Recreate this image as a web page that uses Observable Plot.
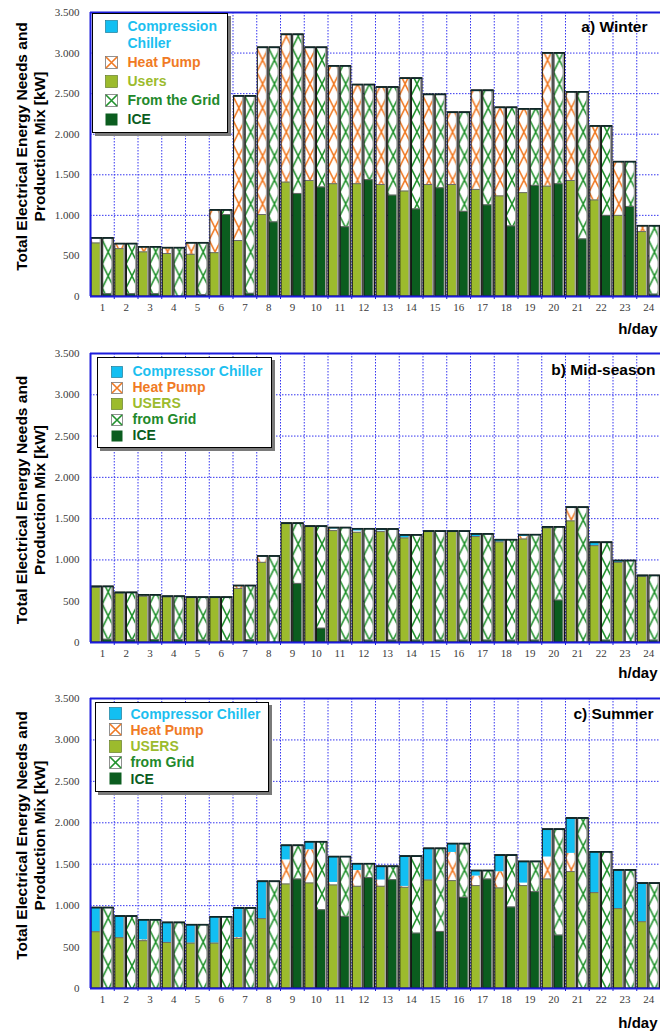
<!DOCTYPE html>
<html>
<head>
<meta charset="utf-8">
<script src="https://cdn.jsdelivr.net/npm/d3@7"></script>
<script src="https://cdn.jsdelivr.net/npm/@observablehq/plot@0.6"></script>
<style>
  body { margin: 0; background: #fff; font-family: "Liberation Sans", Arial, sans-serif; }
  #page { width: 660px; }
  .panel { position: relative; width: 660px; overflow: hidden; }
  .panel svg.plot { display: block; }
  .legend { position: absolute; box-sizing: border-box; background: #fff; border: 1.5px solid #000;
            box-shadow: 3px 3px 0 #7a7a7a; font-weight: bold; font-size: 14px; }
  .legend .row { display: flex; align-items: flex-start; white-space: pre-line; }
  .legend .row svg { flex: none; }
</style>
</head>
<body>
<div id="page"></div>
<script>
// ---- hours and axis ticks ----
const hours = d3.range(1, 25);
const yTicks = [0, 500, 1000, 1500, 2000, 2500, 3000, 3500];
const yLabel = "Total Electrical Energy Needs and\nProduction Mix [kW]";

// ---- a) Winter (kW) ----
const winterUsers     = [660, 590, 550, 530, 520, 540, 690, 1010, 1410, 1430, 1390, 1390, 1380, 1300, 1380, 1380, 1320, 1240, 1280, 1360, 1430, 1190, 1000, 800];
const winterHeatPump  = [60, 60, 60, 70, 140, 525, 1780, 2060, 1820, 1640, 1450, 1220, 1200, 1390, 1110, 890, 1220, 1090, 1030, 1640, 1090, 910, 660, 70];
const winterChiller   = [0, 0, 0, 0, 0, 0, 0, 0, 0, 0, 0, 0, 0, 0, 0, 0, 0, 0, 0, 0, 0, 0, 0, 0];
const winterIce       = [35, 35, 35, 0, 25, 1010, 40, 920, 1270, 1350, 860, 1440, 1250, 1080, 1340, 1050, 1130, 870, 1370, 1390, 710, 1000, 1110, 30];

// ---- b) Mid-season (kW) ----
const midUsers        = [668, 600, 560, 554, 545, 545, 655, 971, 1444, 1408, 1355, 1335, 1343, 1266, 1343, 1343, 1283, 1218, 1254, 1388, 1473, 1173, 971, 801];
const midHeatPump     = [0, 0, 10, 0, 0, 0, 25, 70, 0, 0, 20, 15, 10, 0, 0, 0, 0, 0, 30, 0, 150, 0, 0, 0];
const midChiller      = [10, 5, 5, 5, 3, 3, 8, 5, 0, 0, 15, 25, 20, 35, 5, 5, 30, 25, 20, 10, 15, 40, 20, 10];
const midIce          = [40, 35, 35, 35, 30, 20, 35, 0, 716, 174, 30, 30, 30, 30, 30, 30, 30, 30, 30, 514, 0, 30, 10, 30];

// ---- c) Summer (kW) ----
const summerUsers     = [685, 613, 577, 556, 548, 548, 605, 843, 1262, 1274, 1250, 1234, 1234, 1222, 1310, 1302, 1242, 1214, 1242, 1322, 1411, 1157, 964, 806];
const summerHeatPump  = [0, 0, 10, 0, 0, 0, 10, 0, 290, 400, 30, 190, 75, 10, 0, 340, 115, 195, 30, 265, 220, 0, 0, 0];
const summerChiller   = [290, 260, 240, 240, 220, 315, 355, 450, 175, 95, 310, 80, 165, 365, 380, 105, 65, 200, 260, 335, 425, 490, 465, 465];
const summerIce       = [0, 0, 0, 0, 0, 0, 0, 0, 1322, 951, 871, 1339, 1314, 669, 689, 1101, 1322, 984, 1169, 645, 10, 0, 0, 0];

// ---- colours ----
const cChiller = "#12bff2";
const cHeatPump = "#f07a24";
const cUsers = "#9cbb2d";
const cGrid = "#22922e";
const cIce = "#0b5d1f";
const cAxis = "#1c1cdc";
const cGridLine = "#3434f0";

// ---- layout ----
const W = 660, ML = 90, MR = 0;
const step = (W - ML - MR) / 24;
const fmt = d3.formatLocale({decimal: ",", thousands: ".", grouping: [3]}).format(",");

// Cross-hatch fills, one tile per half-hour slot so every bar gets a full X
const ns = "http://www.w3.org/2000/svg";
const defsSvg = document.createElementNS(ns, "svg");
defsSvg.setAttribute("width", 0);
defsSvg.setAttribute("height", 0);
defsSvg.style.position = "absolute";
const tileW = step / 2, tileH = 24;
defsSvg.innerHTML = `<defs>
  <pattern id="hatch-hp" patternUnits="userSpaceOnUse" x="${ML + 0.4}" y="0" width="${tileW}" height="${tileH}">
    <rect width="${tileW}" height="${tileH}" fill="#fff"/>
    <path d="M0,0L${tileW},${tileH}M${tileW},0L0,${tileH}" stroke="${cHeatPump}" stroke-width="1.6" fill="none"/>
  </pattern>
  <pattern id="hatch-grid" patternUnits="userSpaceOnUse" x="${ML + 0.4}" y="0" width="${tileW}" height="${tileH}">
    <rect width="${tileW}" height="${tileH}" fill="#fff"/>
    <path d="M0,0L${tileW},${tileH}M${tileW},0L0,${tileH}" stroke="${cGrid}" stroke-width="1.6" fill="none"/>
  </pattern>
</defs>`;
document.body.prepend(defsSvg);

// bar extents within an hour slot: side 0 = needs, side 1 = production mix
const barX1 = d => d.side === 0 ? d.h - 1 + 0.045 : d.h - 0.465;
const barX2 = d => d.side === 0 ? d.h - 0.51 : d.h - 0.02;

function swatch(kind, size) {
  const s = size;
  let inner;
  if (kind === "chiller") inner = `<rect x="0.5" y="0.5" width="${s - 1}" height="${s - 1}" fill="${cChiller}" stroke="#0a6d8a" stroke-width="0.6"/>`;
  else if (kind === "users") inner = `<rect x="0.5" y="0.5" width="${s - 1}" height="${s - 1}" fill="${cUsers}" stroke="#56701a" stroke-width="0.6"/>`;
  else if (kind === "ice") inner = `<rect x="0.5" y="0.5" width="${s - 1}" height="${s - 1}" fill="${cIce}"/>`;
  else if (kind === "hp") inner = `<rect x="0.5" y="0.5" width="${s - 1}" height="${s - 1}" fill="#fff" stroke="#777" stroke-width="0.8"/><path d="M1,1L${s - 1},${s - 1}M${s - 1},1L1,${s - 1}" stroke="${cHeatPump}" stroke-width="1.6"/>`;
  else inner = `<rect x="0.5" y="0.5" width="${s - 1}" height="${s - 1}" fill="#fff" stroke="#777" stroke-width="0.8"/><path d="M1,1L${s - 1},${s - 1}M${s - 1},1L1,${s - 1}" stroke="${cGrid}" stroke-width="1.6"/>`;
  return `<svg width="${s}" height="${s}" viewBox="0 0 ${s} ${s}">${inner}</svg>`;
}

function legendBox(cfg) {
  const box = document.createElement("div");
  box.className = "legend";
  Object.assign(box.style, {
    left: cfg.left + "px", top: cfg.top + "px",
    width: cfg.width + "px", height: cfg.height + "px",
    paddingTop: cfg.pad + "px"
  });
  cfg.items.forEach(it => {
    const row = document.createElement("div");
    row.className = "row";
    row.style.lineHeight = cfg.lineHeight + "px";
    row.style.marginBottom = cfg.gap + "px";
    row.style.color = it.color;
    row.innerHTML = `<span style="display:inline-block;margin-left:${cfg.swLeft}px;margin-right:${cfg.swGap}px;margin-top:${(cfg.lineHeight - cfg.sw) / 2}px;height:${cfg.sw}px">${swatch(it.kind, cfg.sw)}</span><span>${it.label}</span>`;
    box.appendChild(row);
  });
  return box;
}

function panel(p) {
  const segs = [];
  const bars = [];
  hours.forEach((h, i) => {
    const u = p.users[i], hp = p.heatPump[i], ch = p.chiller[i], ic = p.ice[i];
    const tot = u + hp + ch;
    segs.push({h, side: 0, key: "users", y1: 0, y2: u});
    segs.push({h, side: 0, key: "hp", y1: u, y2: u + hp});
    segs.push({h, side: 0, key: "chiller", y1: u + hp, y2: tot});
    segs.push({h, side: 1, key: "ice", y1: 0, y2: ic});
    segs.push({h, side: 1, key: "grid", y1: ic, y2: tot});
    bars.push({h, side: 0, total: tot});
    bars.push({h, side: 1, total: tot});
  });
  const of = k => segs.filter(d => d.key === k && d.y2 > d.y1);
  const inner = segs.filter(d => (d.key === "users" || d.key === "ice") && d.y2 > 0);

  const chart = Plot.plot({
    width: W,
    height: p.height,
    marginLeft: ML,
    marginRight: MR,
    marginTop: p.marginTop,
    marginBottom: p.marginBottom,
    style: {fontFamily: "'Liberation Serif', 'Times New Roman', serif", fontSize: "11px", color: "#3a3a3a", background: "#fff"},
    x: {domain: [0, 24], ticks: hours.map(h => h - 0.5), tickFormat: d => String(d + 0.5), tickSize: 0, tickPadding: 7, label: null},
    y: {type: "linear", domain: [0, 3500], ticks: yTicks, tickFormat: fmt, tickSize: 0, tickPadding: 11, label: null},
    marks: [
      // dotted grid
      Plot.ruleY(yTicks.filter(v => v > 0 && v < 3500), {stroke: cGridLine, strokeWidth: 1, strokeDasharray: "1.5,1.5"}),
      Plot.ruleX(hours.slice(0, -1), {stroke: cGridLine, strokeWidth: 1, strokeDasharray: "1.5,1.5"}),
      // short ticks under the axis at each hour boundary
      Plot.ruleX(hours.slice(0, -1), {y1: 0, y2: 0, insetBottom: -3, stroke: cAxis, strokeWidth: 1}),
      // stacked segments
      Plot.rect(of("users"), {x1: barX1, x2: barX2, y1: "y1", y2: "y2", fill: cUsers}),
      Plot.rect(of("hp"), {x1: barX1, x2: barX2, y1: "y1", y2: "y2", fill: "url(#hatch-hp)"}),
      Plot.rect(of("chiller"), {x1: barX1, x2: barX2, y1: "y1", y2: "y2", fill: cChiller}),
      Plot.rect(of("ice"), {x1: barX1, x2: barX2, y1: "y1", y2: "y2", fill: cIce}),
      Plot.rect(of("grid"), {x1: barX1, x2: barX2, y1: "y1", y2: "y2", fill: "url(#hatch-grid)"}),
      // thin seams on top of the base segments
      Plot.ruleY(inner, {y: "y2", x1: barX1, x2: barX2, stroke: "#6a6a6a", strokeWidth: 1}),
      // shaded right edge and outline of every bar
      Plot.rect(bars, {x1: d => barX2(d) - 0.085, x2: barX2, y1: 0, y2: "total", fill: "#a4a4a4"}),
      Plot.rect(bars, {x1: barX1, x2: barX2, y1: 0, y2: "total", fill: "none", stroke: "#111", strokeWidth: 1}),
      Plot.ruleY(bars, {y: "total", x1: barX1, x2: barX2, stroke: "#0e2a2a", strokeWidth: 1.6}),
      // axis frame
      Plot.ruleY([0, 3500], {stroke: cAxis, strokeWidth: 2}),
      Plot.ruleX([0], {stroke: cAxis, strokeWidth: 2}),
      // texts
      Plot.text([p.title], {frameAnchor: "top-right", dx: p.titleDx, dy: p.titleDy, lineAnchor: "middle",
        fontFamily: "'Liberation Sans', Arial, sans-serif", fontWeight: "bold", fontSize: 15.5, fill: "#000"}),
      Plot.text(["h/day"], {frameAnchor: "bottom-right", dx: -3, dy: p.hDy, lineAnchor: "middle",
        fontFamily: "'Liberation Sans', Arial, sans-serif", fontWeight: "bold", fontSize: 15, fill: "#000"}),
      Plot.text([yLabel], {frameAnchor: "left", rotate: -90, dx: -60.5, dy: p.labelDy, textAnchor: "middle", lineAnchor: "middle",
        lineHeight: 1.18, fontFamily: "'Liberation Sans', Arial, sans-serif", fontWeight: "bold", fontSize: 15.5, fill: "#000"})
    ]
  });
  chart.classList.add("plot");

  const div = document.createElement("div");
  div.className = "panel";
  div.style.height = p.height + "px";
  div.appendChild(chart);
  div.appendChild(legendBox(p.legend));
  document.getElementById("page").appendChild(div);
}

panel({
  title: "a) Winter",
  users: winterUsers, heatPump: winterHeatPump, chiller: winterChiller, ice: winterIce,
  height: 340, marginTop: 12, marginBottom: 44,
  titleDx: -13, titleDy: 15, hDy: 33, labelDy: -8,
  legend: {
    left: 92, top: 13, width: 136, height: 120, pad: 4, lineHeight: 17, gap: 2, sw: 13, swLeft: 11.5, swGap: 10,
    items: [
      {kind: "chiller", label: "Compression\nChiller", color: "#1cbff0"},
      {kind: "hp", label: "Heat Pump", color: "#f07a24"},
      {kind: "users", label: "Users", color: "#9cbb2d"},
      {kind: "grid", label: "From the Grid", color: "#22892b"},
      {kind: "ice", label: "ICE", color: "#0b5d1f"}
    ]
  }
});

panel({
  title: "b) Mid-season",
  users: midUsers, heatPump: midHeatPump, chiller: midChiller, ice: midIce,
  height: 350, marginTop: 13, marginBottom: 48,
  titleDx: -5, titleDy: 17, hDy: 31, labelDy: 2,
  legend: {
    left: 97, top: 17, width: 175, height: 91, pad: 4.5, lineHeight: 16, gap: 0, sw: 12, swLeft: 12.5, swGap: 10,
    items: [
      {kind: "chiller", label: "Compressor Chiller", color: "#1cbff0"},
      {kind: "hp", label: "Heat Pump", color: "#f07a24"},
      {kind: "users", label: "USERS", color: "#9cbb2d"},
      {kind: "grid", label: "from Grid", color: "#22892b"},
      {kind: "ice", label: "ICE", color: "#0b5d1f"}
    ]
  }
});

panel({
  title: "c) Summer",
  users: summerUsers, heatPump: summerHeatPump, chiller: summerChiller, ice: summerIce,
  height: 344, marginTop: 8, marginBottom: 46,
  titleDx: -7, titleDy: 16, hDy: 35, labelDy: -8,
  legend: {
    left: 95, top: 12, width: 174, height: 90, pad: 2.5, lineHeight: 16.25, gap: 0, sw: 13, swLeft: 12.5, swGap: 9,
    items: [
      {kind: "chiller", label: "Compressor Chiller", color: "#1cbff0"},
      {kind: "hp", label: "Heat Pump", color: "#f07a24"},
      {kind: "users", label: "USERS", color: "#9cbb2d"},
      {kind: "grid", label: "from Grid", color: "#22892b"},
      {kind: "ice", label: "ICE", color: "#0b5d1f"}
    ]
  }
});
</script>
</body>
</html>
